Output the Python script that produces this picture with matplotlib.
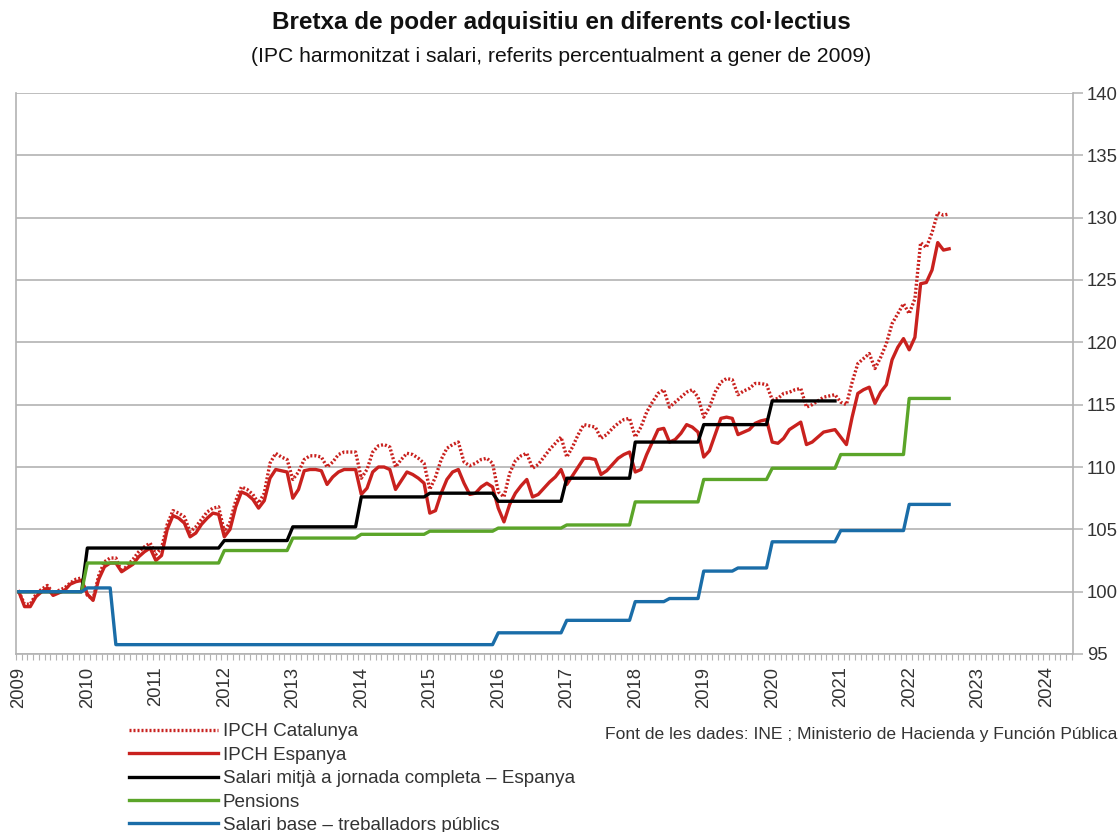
import numpy as np
import matplotlib
matplotlib.use("Agg")
import matplotlib.pyplot as plt
from matplotlib.ticker import FixedLocator

plt.rcParams['font.family'] = ['Liberation Sans', 'DejaVu Sans']

# IPCH mensual (gener 2009 = 100), gener 2009 .. agost 2022
ipch_cat = [
    100.0, 99.0, 99.0, 99.8, 100.2, 100.5, 99.9, 100.1, 100.3, 100.7, 101.0, 101.1,   # 2009
    99.7, 99.4, 101.3, 102.4, 102.7, 102.7, 101.6, 102.1, 102.6, 103.2, 103.6, 103.9,   # 2010
    103.0, 103.5, 105.4, 106.5, 106.3, 106.0, 104.8, 105.2, 105.8, 106.4, 106.7, 106.8,  # 2011
    104.8, 105.6, 107.3, 108.4, 108.2, 107.8, 107.1, 107.9, 110.3, 111.1, 110.8, 110.6,  # 2012
    109.0, 109.6, 110.6, 110.9, 110.9, 110.8, 110.0, 110.4, 111.0, 111.2, 111.2, 111.2,  # 2013
    109.1, 109.8, 111.2, 111.7, 111.8, 111.6, 110.0, 110.6, 111.1, 111.0, 110.7, 110.3,  # 2014
    108.2, 109.2, 110.6, 111.5, 111.8, 112.0, 110.4, 110.1, 110.3, 110.6, 110.7, 110.3,  # 2015
    108.0, 107.6, 109.5, 110.5, 110.9, 111.1, 109.9, 110.2, 110.8, 111.4, 111.9, 112.4,  # 2016
    110.8, 111.6, 112.6, 113.4, 113.3, 113.2, 112.3, 112.6, 113.1, 113.5, 113.8, 113.9,  # 2017
    112.4, 113.2, 114.4, 115.2, 115.9, 116.2, 114.8, 115.2, 115.6, 116.0, 116.2, 115.6,  # 2018
    114.0, 114.8, 116.0, 116.8, 117.1, 117.0, 115.8, 116.1, 116.3, 116.7, 116.7, 116.6,  # 2019
    115.4, 115.5, 115.9, 116.0, 116.2, 116.3, 114.8, 115.0, 115.3, 115.6, 115.7, 115.8,  # 2020
    115.2, 115.0, 116.8, 118.3, 118.7, 119.1, 117.9, 118.8, 119.9, 121.5, 122.3, 123.1,  # 2021
    122.3, 123.5, 128.0, 127.6, 128.8, 130.4, 130.2, 130.3,                              # 2022
]
ipch_esp = [
    100.0, 98.8, 98.8, 99.6, 100.0, 100.3, 99.7, 99.9, 100.1, 100.6, 100.8, 100.9,      # 2009
    99.8, 99.3, 101.0, 102.0, 102.3, 102.3, 101.6, 101.9, 102.2, 102.8, 103.2, 103.5,    # 2010
    102.5, 102.9, 105.0, 106.1, 105.9, 105.5, 104.4, 104.7, 105.4, 105.9, 106.3, 106.2,  # 2011
    104.4, 105.0, 106.8, 108.0, 107.8, 107.4, 106.7, 107.3, 109.1, 109.8, 109.7, 109.6,  # 2012
    107.5, 108.2, 109.7, 109.8, 109.8, 109.7, 108.6, 109.2, 109.6, 109.8, 109.8, 109.8,  # 2013
    107.8, 108.3, 109.6, 110.0, 110.0, 109.8, 108.2, 108.9, 109.6, 109.4, 109.1, 108.7,  # 2014
    106.3, 106.5, 107.9, 109.0, 109.6, 109.8, 108.7, 107.8, 107.9, 108.4, 108.7, 108.4,  # 2015
    106.7, 105.6, 107.0, 107.9, 108.5, 109.0, 107.6, 107.8, 108.3, 108.8, 109.2, 109.8,  # 2016
    108.6, 109.3, 110.0, 110.7, 110.7, 110.6, 109.4, 109.7, 110.2, 110.7, 111.0, 111.2,  # 2017
    109.6, 109.8, 111.0, 112.0, 113.0, 113.1, 112.0, 112.2, 112.7, 113.4, 113.2, 112.8,  # 2018
    110.8, 111.3, 112.6, 113.9, 114.0, 113.9, 112.6, 112.8, 113.0, 113.5, 113.7, 113.8,  # 2019
    112.0, 111.9, 112.3, 113.0, 113.3, 113.6, 111.8, 112.0, 112.4, 112.8, 112.9, 113.0,  # 2020
    112.4, 111.8, 114.0, 115.9, 116.2, 116.4, 115.1, 116.0, 116.6, 118.6, 119.6, 120.3,  # 2021
    119.4, 120.4, 124.7, 124.8, 125.8, 128.0, 127.4, 127.5,                              # 2022
]

# series esglaonades: valor de cada tram i la seva durada en mesos
salari_mitja_vals = [100.0, 103.5, 104.1, 105.2, 107.6, 107.9, 107.25, 109.1, 112.0, 113.4, 115.3]
salari_mitja_mesos = [12, 24, 12, 12, 12, 12, 12, 12, 12, 12, 12]

pensions_vals = [100.0, 102.3, 103.3, 104.3, 104.6, 104.85, 105.1, 105.35, 107.2, 109.0, 109.9, 111.0, 115.5]
pensions_mesos = [12, 24, 12, 12, 12, 12, 12, 12, 12, 12, 12, 12, 8]

salari_base_vals = [100.0, 100.3, 95.75, 96.7, 97.7, 99.2, 99.45, 101.65, 101.9, 104.0, 104.9, 107.0]
salari_base_mesos = [12, 5, 67, 12, 12, 6, 6, 6, 6, 12, 12, 8]

anys = [str(a) for a in range(2009, 2025)]

series = [
    ("IPCH Catalunya", np.array(ipch_cat), dict(color='#c9211e', lw=2.4, ls=(0, (0.6, 0.6)))),
    ("IPCH Espanya", np.array(ipch_esp), dict(color='#c9211e', lw=2.4)),
    ("Salari mitjà a jornada completa – Espanya",
     np.repeat(salari_mitja_vals, salari_mitja_mesos), dict(color='#000000', lw=2.4)),
    ("Pensions", np.repeat(pensions_vals, pensions_mesos), dict(color='#5ba529', lw=2.4)),
    ("Salari base – treballadors públics",
     np.repeat(salari_base_vals, salari_base_mesos), dict(color='#1a6da8', lw=2.4)),
]

W, H = 1118, 832
fig = plt.figure(figsize=(W / 100, H / 100), dpi=100)
ax = fig.add_axes([16 / W, 1 - 654 / H, (1073 - 16) / W, (654 - 93) / H])

for nom, vals, estil in series:
    ax.plot(np.arange(len(vals)), vals, label=nom, solid_joinstyle='round', **estil)

gris = '#b3b3b3'
ax.set_xlim(-0.5, 184.7)
ax.set_ylim(95, 140)
ax.set_yticks(np.arange(95, 141, 5))
ax.yaxis.tick_right()
ax.tick_params(axis='y', direction='out', length=7, width=1.1, color=gris, pad=3,
               labelsize=13.3, labelcolor='#333333')
ax.grid(axis='y', color=gris, lw=1.2)
ax.set_axisbelow(True)

ax.set_xticks(np.arange(0, 181, 12))
ax.set_xticklabels(anys, rotation=90)
ax.xaxis.set_minor_locator(FixedLocator(np.arange(-0.5, 185, 1)))
ax.tick_params(axis='x', which='major', length=0, pad=9, labelsize=13.3, labelcolor='#333333')
ax.tick_params(axis='x', which='minor', direction='out', length=4, width=0.8, color=gris)

for s in ['left', 'right', 'bottom']:
    ax.spines[s].set_color(gris)
    ax.spines[s].set_linewidth(1.2)
ax.spines['top'].set_visible(False)

fig.text(0.502, 1 - 22 / H, "Bretxa de poder adquisitiu en diferents col·lectius",
         ha='center', va='center', fontsize=17.5, fontweight='bold', color='#111111')
fig.text(0.502, 1 - 57 / H, "(IPC harmonitzat i salari, referits percentualment a gener de 2009)",
         ha='center', va='center', fontsize=15.2, color='#111111')

fig.legend(loc='upper left', bbox_to_anchor=(129 / W, 1 - 723 / H), frameon=False,
           fontsize=13.6, handlelength=4.7, handletextpad=0.27, labelspacing=0.33,
           borderpad=0, borderaxespad=0, labelcolor='#333333')

fig.text(1117 / W, 1 - 735 / H, "Font de les dades: INE ; Ministerio de Hacienda y Función Pública",
         ha='right', va='center', fontsize=12.6, color='#333333')

fig.savefig('out.png', dpi=100)
